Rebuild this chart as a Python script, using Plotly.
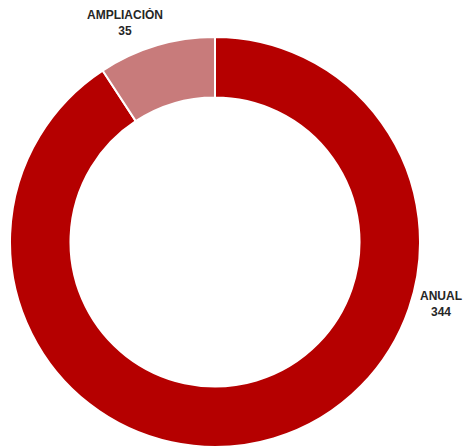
import plotly.graph_objects as go

labels = ["ANUAL", "AMPLIACIÓN"]
values = [344, 35]
colors = ["#B50000", "#C87B7B"]

# page body has an 8px margin; figure is sized to the visible area
OFF = 8
W, H = 471 - OFF, 448 - OFF

def fx(px):
    return (px - OFF) / W

def fy(py):
    return 1 - (py - OFF) / H

fig = go.Figure(go.Pie(
    labels=labels,
    values=values,
    hole=0.705,
    sort=False,
    direction="clockwise",
    rotation=0,
    textinfo="none",
    hoverinfo="label+value",
    marker=dict(colors=colors, line=dict(color="white", width=2)),
    domain=dict(x=[fx(10), fx(420)], y=[fy(447), fy(37)]),
    showlegend=False,
))

label_pos = {"ANUAL": (441, 304), "AMPLIACIÓN": (125, 23)}
for lab, val in zip(labels, values):
    px, py = label_pos[lab]
    fig.add_annotation(
        x=fx(px), y=fy(py), xref="paper", yref="paper",
        text=f"<b>{lab}</b><br><b>{val}</b>",
        showarrow=False, xanchor="center", yanchor="middle",
        font=dict(family="Liberation Sans", size=12, color="#262626"),
        align="center",
    )

fig.update_layout(
    width=W, height=H,
    margin=dict(l=0, r=0, t=0, b=0),
    paper_bgcolor="white",
    plot_bgcolor="white",
)

fig.write_html("out.html")
